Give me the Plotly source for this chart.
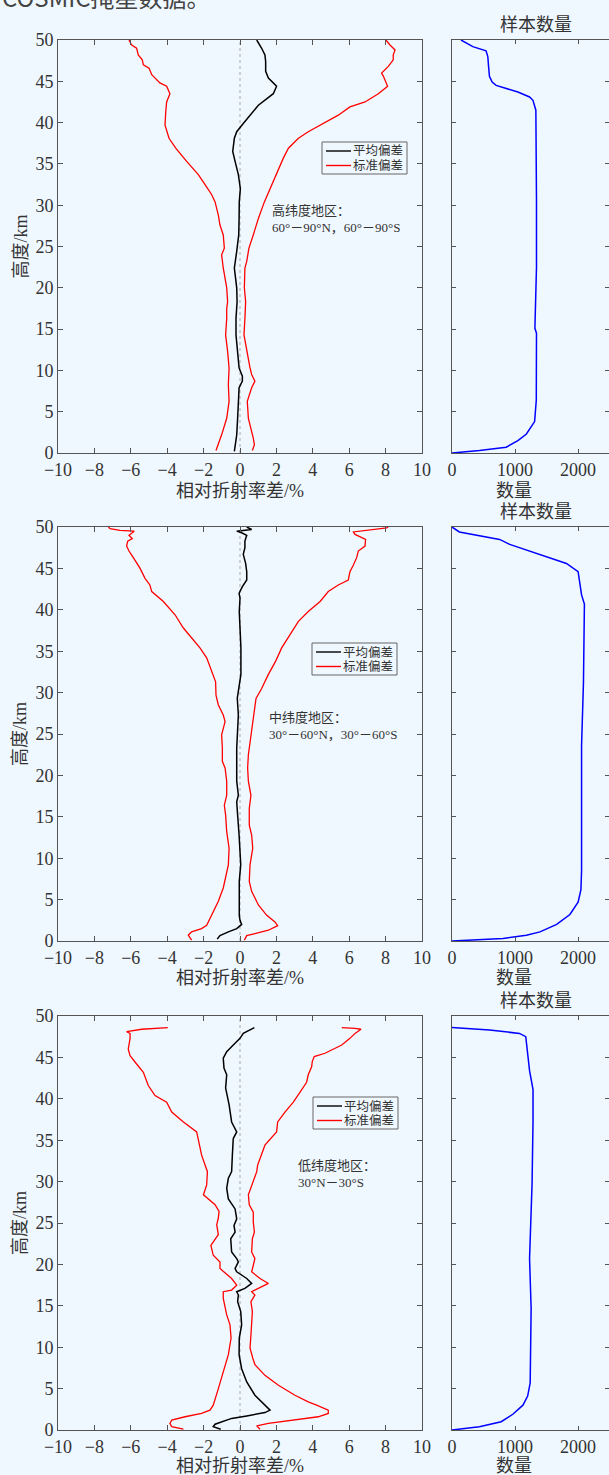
import plotly.graph_objects as go

W, H = 609, 1475
BG = "#f0f8ff"
AX = "#555555"
TXT = "#333333"
FONT = "Liberation Serif, Noto Sans CJK SC, serif"

# ---------------- Panel 1: high latitude ----------------
h1_mean = [0.2, 2.2, 4.2, 6.25, 7.9, 8.7, 9.3, 10.3, 12.3, 14.3, 16.3, 18.3, 20, 22.4, 24.4, 26.4, 28.4, 30.4,
           32, 33.7, 35.3, 36.5, 38.1, 38.9, 39.9, 40.9, 42.1, 43.5, 44.4, 45.4, 46.2, 47.4, 48.2, 49, 49.8, 50]
mean1 = [-0.31, -0.18, -0.13, -0.09, -0.05, 0.13, 0.13, -0.05, -0.13, -0.22, -0.22, -0.16, -0.18, -0.31, -0.18,
         -0.07, -0.05, -0.04, 0.02, -0.09, -0.27, -0.40, -0.31, -0.18, 0.18, 0.55, 1.01, 1.83, 2.01, 1.56, 1.41,
         1.41, 1.37, 1.19, 0.95, 0.92]
h1_lo = [0.3, 1.0, 2.2, 4.2, 5.4, 6.25, 8.3, 10.3, 12.3, 14.3, 16.3, 17.5, 18.3, 20, 22.4, 24, 24.8, 26.4, 27.6,
         28.8, 30.4, 31.3, 32.5, 33.7, 35.3, 36.9, 38.1, 39.7, 41.3, 42.5, 43.5, 44.4, 44.8, 45.8, 46.6, 47.0,
         47.6, 48.2, 49.0, 49.4, 50]
lo1 = [-1.32, -1.19, -1.01, -0.73, -0.64, -0.60, -0.64, -0.60, -0.68, -0.79, -0.73, -0.73, -0.68, -0.73, -0.92,
       -1.01, -0.86, -0.92, -1.10, -1.19, -1.37, -1.56, -1.92, -2.29, -2.93, -3.53, -3.90, -4.12, -4.08, -4.03,
       -3.85, -4.03, -4.40, -4.85, -5.00, -5.31, -5.37, -5.59, -5.68, -5.95, -6.10]
h1_hi = [0.3, 1.0, 1.8, 2.2, 4.2, 6.25, 7.9, 8.7, 9.5, 10.3, 12.3, 14.3, 16.3, 18.3, 20, 22.4, 23.2, 24.8, 26.4,
         28.4, 30.4, 32.5, 34.5, 35.7, 36.9, 38.1, 38.9, 39.9, 40.9, 41.9, 42.5, 43.5, 44.4, 45.6, 46.0, 46.8,
         47.6, 48.2, 48.8, 49.4, 49.8, 50]
hi1 = [0.68, 0.79, 0.73, 0.68, 0.46, 0.40, 0.64, 0.82, 0.64, 0.55, 0.37, 0.22, 0.27, 0.31, 0.24, 0.27, 0.37, 0.49,
       0.73, 1.01, 1.34, 1.74, 2.11, 2.38, 2.66, 3.21, 3.75, 4.58, 5.40, 6.04, 6.87, 7.60, 8.11, 7.88, 7.78, 8.15,
       8.42, 8.42, 8.52, 8.24, 8.06, 8.02]
h1_cnt = [0, 0.3, 0.7, 1.5, 2.3, 3.8, 6.4, 14.5, 15.1, 22.5, 30.6, 38.7, 41.5, 42.7, 43.1, 43.7, 44.1, 44.5, 44.9,
          45.6, 46.8, 48, 48.7, 49.2, 50]
cnt1 = [0, 435, 860, 1045, 1180, 1310, 1337, 1340, 1315, 1340, 1340, 1340, 1330, 1284, 1230, 1045, 860, 700, 637,
        594, 580, 568, 540, 330, 143]

# ---------------- Panel 2: middle latitude ----------------
h2_mean = [0.25, 0.65, 1.1, 1.5, 2.0, 2.5, 3.1, 7.2, 9.2, 11.2, 12.8, 15.2, 16.8, 17.6, 19.3, 23.3, 25.3, 27.3,
           29.3, 30.5, 32.2, 35.4, 37.4, 39.8, 41.4, 42.0, 42.8, 43.6, 44.6, 45.6, 46.7, 47.5, 48.3, 49.0, 49.3,
           49.5, 49.7, 49.9, 50]
mean2 = [-1.25, -1.10, -0.64, -0.18, 0.09, 0.0, -0.04, -0.04, 0.04, 0.0, -0.05, -0.13, -0.18, -0.09, -0.18,
         -0.18, -0.15, -0.09, -0.15, -0.05, 0.05, 0.05, 0.0, -0.04, 0.0, -0.05, 0.13, 0.37, 0.37, 0.31, 0.18,
         0.27, 0.27, 0.37, 0.09, -0.18, 0.64, 0.46, 0.37]
h2_lo = [0.1, 0.7, 1.1, 1.5, 1.9, 3.1, 4.8, 6.4, 9.2, 11.2, 13.2, 15.2, 16.4, 17.6, 19.3, 20.9, 21.7, 23.3, 24.9,
         26.5, 27.3, 28.5, 29.7, 31.3, 32.6, 34.2, 35.4, 36.6, 37.8, 39.4, 41.0, 42.2, 43.0, 43.8, 45.0, 46.3,
         47.1, 47.7, 48.3, 48.6, 49.0, 49.5, 49.6, 49.8, 50]
lo2 = [-2.66, -2.84, -2.66, -2.11, -1.83, -1.56, -1.19, -0.92, -0.64, -0.60, -0.73, -0.79, -0.86, -0.73, -0.73,
       -0.82, -0.97, -0.97, -1.01, -0.82, -0.92, -1.19, -1.32, -1.34, -1.56, -1.83, -2.20, -2.66, -3.11, -3.57,
       -4.21, -4.85, -4.95, -5.22, -5.49, -5.86, -6.10, -6.23, -6.17, -5.92, -6.10, -5.81, -6.59, -7.14, -7.23]
h2_hi = [0.1, 0.65, 0.9, 1.3, 1.85, 2.3, 3.1, 4.35, 6.0, 7.2, 9.2, 11.2, 12.8, 14.0, 16.0, 17.6, 19.3, 20.9, 22.5,
         24.1, 25.7, 27.3, 29.3, 30.5, 32.2, 33.8, 35.4, 37.0, 38.6, 39.8, 41.0, 42.2, 43.0, 43.6, 44.6, 45.4,
         46.3, 47.1, 47.7, 48.5, 49.1, 49.4, 49.6, 49.9, 50]
hi2 = [0.24, 0.37, 0.82, 1.56, 2.07, 1.92, 1.47, 1.01, 0.64, 0.51, 0.55, 0.70, 0.64, 0.51, 0.51, 0.60, 0.46, 0.42,
       0.46, 0.55, 0.64, 0.73, 0.88, 1.19, 1.56, 1.96, 2.29, 2.75, 3.21, 3.75, 4.40, 4.85, 5.40, 5.95, 6.04, 6.23,
       6.41, 6.50, 6.87, 6.90, 6.32, 6.23, 7.05, 8.06, 8.15]
h2_cnt = [0, 0.3, 0.7, 1.1, 2, 3.2, 4.7, 6.2, 8.5, 16.1, 23.6, 31.2, 38.8, 40.7, 41.8, 43.3, 44.6, 45.6, 46.7,
          47.9, 48.5, 49.4, 50]
cnt2 = [0, 810, 1180, 1395, 1660, 1870, 2000, 2045, 2055, 2055, 2055, 2085, 2095, 2100, 2055, 2030, 2000, 1815,
        1390, 915, 755, 117, 0]

# ---------------- Panel 3: low latitude ----------------
h3_mean = [0.1, 0.4, 0.7, 1.0, 1.4, 1.7, 2.1, 2.4, 3.0, 4.2, 5.8, 7.4, 9.1, 11.1, 12.7, 14.3, 15.5, 16.3, 16.7,
           17.1, 17.7, 18.3, 19.1, 19.5, 20.3, 20.7, 21.5, 23.1, 23.9, 24.7, 25.5, 26.7, 27.9, 29.2, 30.4, 31.2,
           33.2, 35.2, 36.0, 37.2, 39.3, 41.3, 42.9, 43.7, 44.9, 45.7, 46.5, 47.3, 47.9, 48.4, 48.6]
mean3 = [-1.06, -1.47, -1.37, -1.01, -0.46, 0.37, 1.37, 1.65, 1.37, 0.82, 0.37, 0.09, -0.05, -0.04, 0.09, 0.04,
         -0.13, -0.09, -0.18, 0.27, 0.64, 0.37, -0.18, -0.27, -0.09, -0.18, -0.46, -0.51, -0.27, -0.33, -0.18,
         -0.27, -0.64, -0.73, -0.64, -0.46, -0.42, -0.37, -0.18, -0.46, -0.60, -0.79, -0.73, -0.88, -0.92, -0.73,
         -0.37, 0.0, 0.18, 0.64, 0.79]
h3_lo = [0.1, 0.4, 0.8, 1.2, 1.6, 2.0, 2.4, 3.0, 5.0, 7.0, 9.1, 11.1, 12.7, 13.9, 15.1, 15.9, 16.7, 16.9, 17.5,
         18.3, 19.5, 20.3, 21.1, 22.3, 23.6, 24.8, 25.6, 26.4, 27.2, 28.4, 29.6, 31.2, 33.2, 35.2, 36.0, 37.2,
         38.4, 39.6, 40.4, 41.6, 42.8, 43.2, 44.2, 45.2, 46.0, 47.3, 47.9, 48.1, 48.4, 48.6]
lo3 = [-3.11, -3.75, -3.85, -3.75, -3.02, -2.11, -1.65, -1.47, -1.19, -0.92, -0.64, -0.49, -0.55, -0.73, -0.82,
       -0.92, -0.92, -0.46, -0.18, -0.46, -1.10, -1.10, -1.47, -1.60, -1.19, -1.28, -1.19, -1.15, -1.37, -2.01,
       -1.83, -1.79, -2.11, -2.29, -2.38, -3.11, -3.75, -4.03, -4.67, -5.04, -5.22, -5.31, -5.68, -6.04, -6.14,
       -6.04, -6.04, -6.23, -5.40, -3.97]
h3_hi = [0.1, 0.5, 0.8, 1.2, 1.6, 2.0, 2.4, 3.0, 3.4, 4.2, 5.4, 6.6, 7.9, 8.7, 9.9, 11.1, 12.7, 14.3, 15.5, 16.3,
         16.7, 17.1, 17.7, 18.3, 19.1, 19.9, 20.7, 21.5, 23.1, 23.9, 25.1, 26.3, 27.2, 28.4, 30.0, 31.2, 32.0,
         33.2, 34.4, 36.0, 37.2, 38.4, 39.6, 40.8, 42.0, 42.9, 43.9, 44.5, 45.1, 45.5, 46.5, 47.3, 47.9, 48.4,
         48.5, 48.6]
hi3 = [1.10, 0.92, 1.56, 3.02, 4.30, 4.85, 4.85, 4.21, 3.75, 3.02, 2.11, 1.37, 0.82, 0.70, 0.55, 0.59, 0.64, 0.68,
       0.60, 0.82, 0.64, 1.01, 1.56, 1.10, 0.64, 0.73, 0.82, 0.64, 0.68, 0.79, 0.73, 0.73, 0.51, 0.46, 0.73, 0.92,
       0.97, 1.19, 1.37, 2.01, 2.07, 2.47, 2.93, 3.30, 3.66, 3.75, 3.94, 3.97, 4.08, 4.67, 5.59, 6.04, 6.32, 6.65,
       6.32, 5.59]
h3_cnt = [0, 0.4, 1, 1.9, 3, 4.1, 5.7, 14.7, 20.7, 29.8, 37.3, 41.1, 43.4, 46.4, 47.5, 47.9, 48.3, 48.6]
cnt3 = [0, 434, 780, 965, 1125, 1200, 1240, 1255, 1230, 1270, 1285, 1285, 1230, 1190, 1170, 1070, 595, 0]

region_text = ["高纬度地区：<br>60°－90°N，60°－90°S",
               "中纬度地区：<br>30°－60°N，30°－60°S",
               "低纬度地区：<br>30°N－30°S"]
mean_name = "平均偏差"
std_name = "标准偏差"
x_ticks = list(range(-10, 11, 2))
y_ticks = list(range(0, 51, 5))
cnt_ticks = [0, 1000, 2000]

panels = [
    (h1_mean, mean1, h1_lo, lo1, h1_hi, hi1, h1_cnt, cnt1),
    (h2_mean, mean2, h2_lo, lo2, h2_hi, hi2, h2_cnt, cnt2),
    (h3_mean, mean3, h3_lo, lo3, h3_hi, hi3, h3_cnt, cnt3),
]

# layout geometry (pixels)
main_x = (58, 422)
cnt_x = (452, 609)
rows_y = [(40, 453), (527, 941), (1016, 1430)]
legend_box = [(322, 142), (312, 643), (313, 1097)]   # top-left corner of each legend box
region_pos = [(270, 219), (267, 726), (296, 1174)]
xlabel_gap = [38, 37, 36]


def px(x):
    return x / W


def py(y):
    return 1 - y / H


fig = go.Figure()
layout = dict(
    width=W, height=H, paper_bgcolor=BG, plot_bgcolor=BG,
    margin=dict(l=0, r=0, t=0, b=0, pad=0), showlegend=False, autosize=False,
    font=dict(family=FONT, color=TXT, size=18),
)
annotations = []
shapes = []

axis_common = dict(showline=True, linecolor=AX, linewidth=1, mirror="ticks", ticks="inside",
                   tickcolor=AX, ticklen=5, showgrid=False, zeroline=False, automargin=False,
                   tickfont=dict(family=FONT, size=18, color=TXT))


def label(text, x, y, size=18, angle=0, xanchor="center"):
    return dict(text=text, x=px(x), y=py(y), xref="paper", yref="paper", xanchor=xanchor,
                yanchor="middle", textangle=angle, showarrow=False, align="left",
                font=dict(family=FONT, size=size, color=TXT))


for i, (hm, m, hl, lo, hh, hi, hc, c) in enumerate(panels):
    ax_main = 2 * i + 1
    ax_cnt = 2 * i + 2
    xm = "x" if ax_main == 1 else f"x{ax_main}"
    ym = "y" if ax_main == 1 else f"y{ax_main}"
    xc = f"x{ax_cnt}"
    yc = f"y{ax_cnt}"
    y0, y1 = rows_y[i]
    ydom = [py(y1), py(y0)]

    fig.add_trace(go.Scatter(x=m, y=hm, mode="lines", name=mean_name, line=dict(color="black", width=1.5),
                             xaxis=xm, yaxis=ym))
    fig.add_trace(go.Scatter(x=lo, y=hl, mode="lines", name=std_name, line=dict(color="red", width=1.3),
                             xaxis=xm, yaxis=ym))
    fig.add_trace(go.Scatter(x=hi, y=hh, mode="lines", name=std_name, line=dict(color="red", width=1.3),
                             xaxis=xm, yaxis=ym))
    fig.add_trace(go.Scatter(x=c, y=hc, mode="lines", name="样本数量", line=dict(color="blue", width=1.5),
                             xaxis=xc, yaxis=yc))

    kx = "xaxis" if ax_main == 1 else f"xaxis{ax_main}"
    ky = "yaxis" if ax_main == 1 else f"yaxis{ax_main}"
    layout[kx] = dict(axis_common, domain=[px(main_x[0]), px(main_x[1])], range=[-10, 10],
                      tickvals=x_ticks, anchor=ym)
    layout[ky] = dict(axis_common, domain=ydom, range=[0, 50], tickvals=y_ticks, anchor=xm)
    layout[f"xaxis{ax_cnt}"] = dict(axis_common, domain=[px(cnt_x[0]), 1.0], range=[0, 2490],
                                   tickvals=cnt_ticks, anchor=yc, ticklen=4)
    layout[f"yaxis{ax_cnt}"] = dict(axis_common, domain=ydom, range=[0, 50], tickvals=y_ticks,
                                   showticklabels=False, anchor=xc, ticklen=4)

    # legend box (drawn as a framed key)
    lx, ly = legend_box[i]
    shapes.append(dict(type="rect", xref="paper", yref="paper", x0=px(lx), x1=px(lx + 85),
                       y0=py(ly + 32), y1=py(ly), line=dict(color="#666666", width=1), fillcolor=BG))
    for k, (nm, col) in enumerate([(mean_name, "black"), (std_name, "red")]):
        yy = ly + 9 + k * 14.5
        shapes.append(dict(type="line", xref="paper", yref="paper", x0=px(lx + 4), x1=px(lx + 29),
                           y0=py(yy), y1=py(yy), line=dict(color=col, width=1.4)))
        annotations.append(dict(text=nm, x=px(lx + 29), y=py(yy), xref="paper", yref="paper",
                                xanchor="left", yanchor="middle", showarrow=False,
                                font=dict(family=FONT, size=12.5, color=TXT)))

    # zero reference line
    shapes.append(dict(type="line", xref=xm, yref=f"{ym} domain", x0=0, x1=0, y0=0, y1=1,
                       line=dict(color="#aaaaaa", width=1, dash="dot"), layer="below"))

    rx, ry = region_pos[i]
    annotations.append(label(region_text[i], rx, ry, size=13, xanchor="left"))
    annotations.append(label("高度/km", 20, (y0 + y1) / 2, angle=-90))
    annotations.append(label("相对折射率差/%", 240, y1 + xlabel_gap[i]))
    annotations.append(label("数量", 514, y1 + xlabel_gap[i]))
    annotations.append(label("样本数量", 536, y0 - 15))

# cut-off caption text at the very top
annotations.append(dict(text="COSMIC掩星数据。", x=0, y=py(-4), xref="paper", yref="paper",
                        xanchor="left", yanchor="middle", showarrow=False,
                        font=dict(family="Noto Sans CJK SC, sans-serif", size=24, color="#444444")))

layout["annotations"] = annotations
layout["shapes"] = shapes
fig.update_layout(**layout)
fig.write_html("out.html", config={"displayModeBar": False},
               post_script="document.body.style.margin='0px';document.body.style.padding='0px';"
                           "document.body.style.overflow='hidden';"
                           "document.body.style.background='" + BG + "';")
